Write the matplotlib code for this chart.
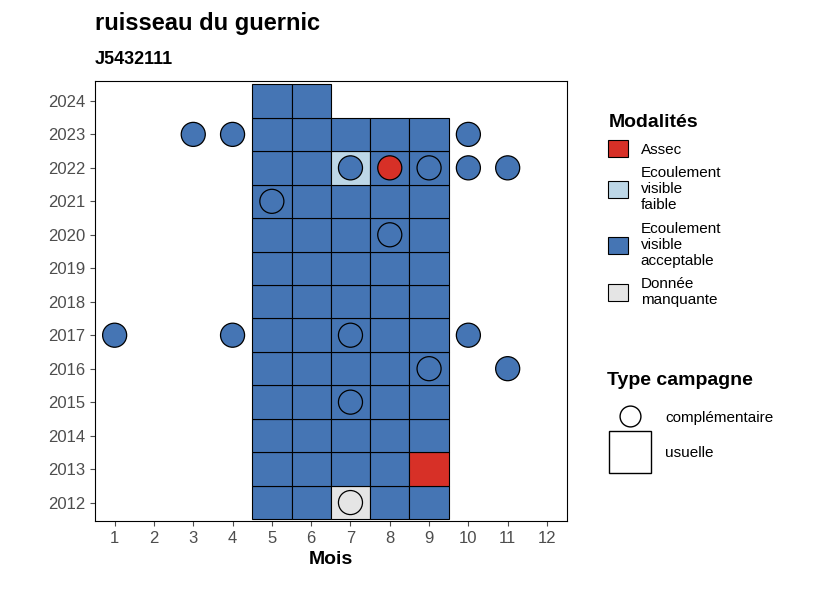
import matplotlib.pyplot as plt
from matplotlib.patches import Rectangle
from matplotlib.lines import Line2D

plt.rcParams['font.family'] = ['Liberation Sans', 'DejaVu Sans']

colors = {"Assec": "#D73027", "Ecoulement visible faible": "#BDD7E7",
          "Ecoulement visible acceptable": "#4575B4", "Donnée manquante": "#E5E5E5"}
A, F, V, M = "Assec", "Ecoulement visible faible", "Ecoulement visible acceptable", "Donnée manquante"

# usual campaigns: (month, year, modality)
tile_months = [5, 6, 7, 8, 9]
tile_years = list(range(2012, 2024))
tile_special = {(7, 2022): F, (9, 2013): A, (7, 2012): M}
tiles_2024 = [5, 6]

# complementary campaigns
pt_month = [3, 4, 10, 7, 8, 9, 10, 11, 5, 8, 1, 4, 7, 10, 9, 11, 7, 7]
pt_year = [2023, 2023, 2023, 2022, 2022, 2022, 2022, 2022, 2021, 2020,
           2017, 2017, 2017, 2017, 2016, 2016, 2015, 2012]
pt_mod = [V, V, V, V, A, V, V, V, V, V, V, V, V, V, V, V, V, M]

fig = plt.figure(figsize=(8.26, 5.9), dpi=100)
ax = fig.add_axes([0.115, 0.117, 0.571, 0.746])

tiles = [(m, y, tile_special.get((m, y), V)) for y in tile_years for m in tile_months]
tiles += [(m, 2024, V) for m in tiles_2024]
for m, y, mod in tiles:
    ax.add_patch(Rectangle((m - 0.5, y - 0.5), 1, 1, facecolor=colors[mod],
                           edgecolor="black", lw=0.8, zorder=2))
ax.scatter(pt_month, pt_year, s=300, c=[colors[k] for k in pt_mod],
           edgecolors="black", linewidths=0.9, zorder=3)

ax.set_xlim(0.5, 12.5)
ax.set_ylim(2011.45, 2024.6)
ax.set_xticks(range(1, 13))
ax.set_yticks(range(2012, 2025))
ax.tick_params(labelsize=12, colors="#4D4D4D", labelcolor="#4D4D4D")
ax.set_xlabel("Mois", fontsize=14, fontweight="bold")
for s in ax.spines.values():
    s.set_linewidth(0.8)

fig.text(0.115, 0.96, "ruisseau du guernic", fontsize=17, fontweight="bold", va="center")
fig.text(0.115, 0.9, "J5432111", fontsize=13, fontweight="bold", va="center")

labels = ["Assec", "Ecoulement\nvisible\nfaible", "Ecoulement\nvisible\nacceptable",
          "Donnée\nmanquante"]
handles = [Rectangle((0, 0), 1, 1, facecolor=colors[k], edgecolor="black", lw=0.8)
           for k in [A, F, V, M]]
leg1 = fig.legend(handles, labels, title="Modalités", loc="upper left",
                  bbox_to_anchor=(0.72, 0.83), frameon=False, fontsize=11,
                  handlelength=1.3, handleheight=1.3, labelspacing=0.6)
leg1.get_title().set_fontweight("bold")
leg1.get_title().set_fontsize(14)
leg1._legend_box.align = "left"

h2 = [Line2D([], [], marker="o", ls="", ms=15, mfc="white", mec="black"),
      Line2D([], [], marker="s", ls="", ms=30, mfc="white", mec="black")]
leg2 = fig.legend(h2, ["complémentaire", "usuelle"], title="Type campagne",
                  loc="upper left", bbox_to_anchor=(0.72, 0.39), frameon=False,
                  fontsize=11, handlelength=3, labelspacing=1.4, borderpad=0.3)
leg2.get_title().set_fontweight("bold")
leg2.get_title().set_fontsize(14)
leg2._legend_box.align = "left"

fig.savefig("out.png", dpi=100)
